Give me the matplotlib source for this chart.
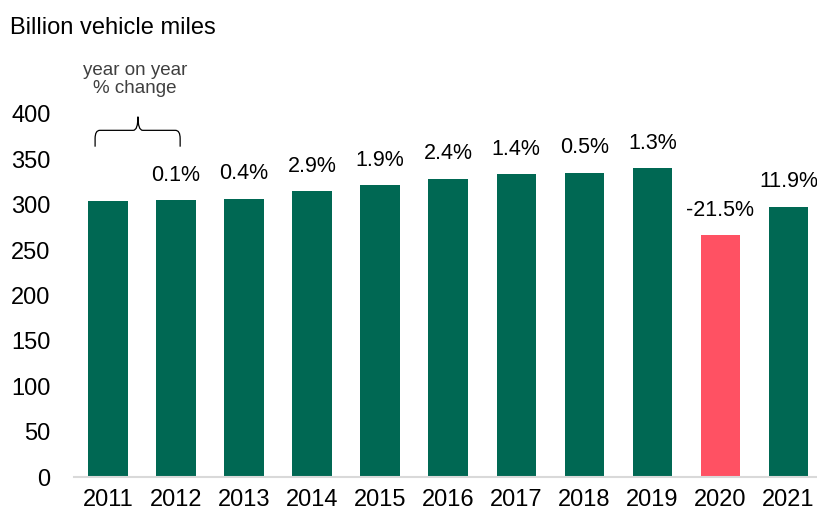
import matplotlib.pyplot as plt
from matplotlib.path import Path
from matplotlib.patches import PathPatch

plt.rcParams['font.family'] = ['Liberation Sans', 'DejaVu Sans']

years = ['2011', '2012', '2013', '2014', '2015', '2016', '2017', '2018', '2019', '2020', '2021']
miles = [304, 305, 306.5, 315, 321.5, 328.5, 333.5, 335, 340, 266.5, 298]
changes = ['', '0.1%', '0.4%', '2.9%', '1.9%', '2.4%', '1.4%', '0.5%', '1.3%', '-21.5%', '11.9%']

green = '#006853'
red = '#FF5163'
colors = [red if y == '2020' else green for y in years]

fig = plt.figure(figsize=(8.17, 5.13), dpi=100)
ax = fig.add_axes([74 / 817, 1 - 477 / 513, 743 / 817, 363 / 513])

x = range(len(years))
ax.bar(x, miles, width=0.58, color=colors, zorder=2)

# percentage change labels above bars
for i, (v, lab) in enumerate(zip(miles, changes)):
    if lab:
        ax.text(i, v + 16, lab, ha='center', va='bottom', fontsize=15.5, color='#000000')

ax.set_xlim(-0.5, 10.42)
ax.set_ylim(0, 400)
ax.set_yticks(range(0, 401, 50))
ax.set_xticks(list(x))
ax.set_xticklabels(years)
ax.tick_params(axis='both', length=0, labelsize=17, colors='#000000')
ax.tick_params(axis='x', pad=9)
ax.tick_params(axis='y', pad=17)
for s in ['top', 'right', 'left']:
    ax.spines[s].set_visible(False)
ax.spines['bottom'].set_color('#d9d9d9')
ax.spines['bottom'].set_linewidth(1.5)

# bracket for "year on year % change"
xl, xr, xm = -0.19, 1.06, 0.44
yb, yh, yt = 364, 382, 397
r = 0.07
verts = [
    (xl, yb), (xl, yh - 9), (xl, yh), (xl + r, yh),
    (xm - r, yh), (xm, yh), (xm, yt),
    (xm, yt), (xm, yh), (xm + r, yh),
    (xr - r, yh), (xr, yh), (xr, yh - 9), (xr, yb),
]
codes = [
    Path.MOVETO, Path.LINETO, Path.CURVE3, Path.CURVE3,
    Path.LINETO, Path.CURVE3, Path.CURVE3,
    Path.MOVETO, Path.CURVE3, Path.CURVE3,
    Path.LINETO, Path.CURVE3, Path.CURVE3, Path.LINETO,
]
ax.add_patch(PathPatch(Path(verts, codes), fill=False, edgecolor='#000000',
                       linewidth=0.9, clip_on=False))

ax.text(0.4, 438, 'year on year\n% change', ha='center', va='center', fontsize=13.5,
        color='#404040', linespacing=1.15, clip_on=False)

fig.text(10 / 817, 1 - 28 / 513, 'Billion vehicle miles', ha='left', va='center',
         fontsize=17, color='#000000')

fig.savefig('out.png', dpi=100)
